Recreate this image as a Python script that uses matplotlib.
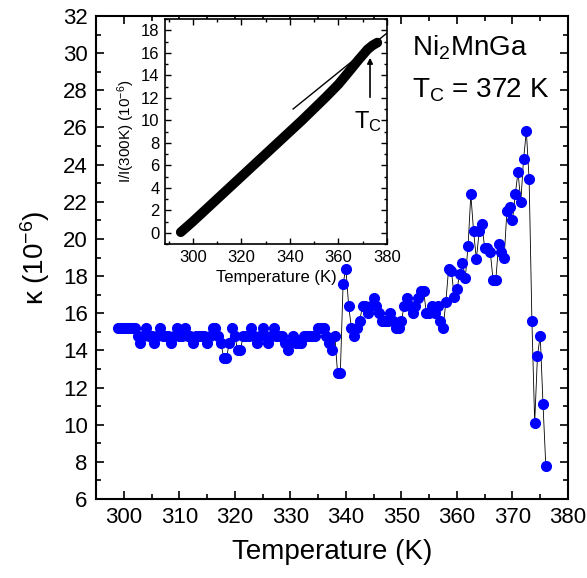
import matplotlib
matplotlib.use("Agg")
import matplotlib.pyplot as plt
from matplotlib.ticker import MultipleLocator

plt.rcParams['font.family'] = ['Liberation Sans', 'DejaVu Sans']
plt.rcParams['mathtext.fontset'] = 'custom'
plt.rcParams['mathtext.rm'] = 'Liberation Sans'
plt.rcParams['mathtext.it'] = 'Liberation Sans:italic'
plt.rcParams['mathtext.default'] = 'regular'

# main panel: susceptibility kappa vs temperature
temp = [299.0, 299.5, 300.0, 300.5, 301.0, 301.5, 302.0, 302.5, 303.0, 303.5,
        304.0, 304.5, 305.0, 305.5, 306.0, 306.5, 307.0, 307.5, 308.0, 308.5,
        309.0, 309.5, 310.0, 310.5, 311.0, 311.5, 312.0, 312.5, 313.0, 313.5,
        314.0, 314.5, 315.0, 315.5, 316.0, 316.5, 317.0, 317.5, 318.0, 318.5,
        319.0, 319.5, 320.0, 320.5, 321.0, 321.5, 322.0, 322.5, 323.0, 323.5,
        324.0, 324.5, 325.0, 325.5, 326.0, 326.5, 327.0, 327.5, 328.0, 328.5,
        329.0, 329.5, 330.0, 330.5, 331.0, 331.5, 332.0, 332.5, 333.0, 333.5,
        334.0, 334.5, 335.0, 335.5, 336.0, 336.5, 337.0, 337.5, 338.0, 338.5,
        339.0, 339.5, 340.0, 340.5, 341.0, 341.5, 342.0, 342.5, 343.0, 343.5,
        344.0, 344.5, 345.0, 345.5, 346.0, 346.5, 347.0, 347.5, 348.0, 348.5,
        349.0, 349.5, 350.0, 350.5, 351.0, 351.5, 352.0, 352.5, 353.0, 353.5,
        354.0, 354.5, 355.0, 355.5, 356.0, 356.5, 357.0, 357.5, 358.0, 358.5,
        359.0, 359.5, 360.0, 360.5, 361.0, 361.5, 362.0, 362.5, 363.0, 363.5,
        364.0, 364.5, 365.0, 365.5, 366.0, 366.5, 367.0, 367.5, 368.0, 368.5,
        369.0, 369.5, 370.0, 370.5, 371.0, 371.5, 372.0, 372.5, 373.0, 373.5,
        374.0, 374.5, 375.0, 375.5, 376.0]
kappa = [15.2, 15.2, 15.2, 15.2, 15.2, 15.2, 15.2, 14.8, 14.4, 14.8,
         15.2, 14.8, 14.8, 14.4, 14.8, 15.2, 14.8, 14.8, 14.8, 14.4,
         14.8, 15.2, 14.8, 14.8, 15.2, 14.8, 14.8, 14.4, 14.8, 14.8,
         14.8, 14.8, 14.4, 14.8, 15.2, 15.2, 14.8, 14.4, 13.6, 13.6,
         14.4, 15.2, 14.8, 14.0, 14.0, 14.8, 14.8, 14.8, 15.2, 14.8,
         14.4, 14.8, 15.2, 14.8, 14.4, 14.8, 15.2, 14.8, 14.8, 14.8,
         14.4, 14.0, 14.4, 14.8, 14.4, 14.4, 14.4, 14.8, 14.8, 14.8,
         14.8, 14.8, 15.2, 15.2, 15.2, 14.8, 14.4, 14.0, 14.8, 12.8,
         12.8, 17.6, 18.4, 16.4, 15.2, 14.8, 15.2, 15.6, 16.4, 16.4,
         16.0, 16.4, 16.8, 16.4, 16.0, 15.6, 15.6, 15.6, 16.0, 15.6,
         15.2, 15.2, 15.6, 16.4, 16.8, 16.4, 16.0, 16.4, 16.8, 17.2,
         17.2, 16.0, 16.0, 16.4, 16.0, 16.4, 15.6, 15.2, 16.6, 18.4,
         18.3, 16.9, 17.3, 18.1, 18.7, 17.9, 19.6, 22.4, 20.4, 18.9,
         20.4, 20.8, 19.5, 19.5, 19.3, 17.8, 17.8, 19.7, 19.3, 19.0,
         21.5, 21.7, 21.0, 22.4, 23.6, 22.0, 24.3, 25.8, 23.2, 15.6,
         10.1, 13.7, 14.8, 11.1, 7.8]

# inset: normalised intensity
temp_in = [295, 300, 305, 310, 315, 320, 325, 330, 335, 340,
           345, 350, 355, 360, 365, 368, 370, 372, 374, 376]
ratio_in = [0.05, 1.0, 2.0, 3.0, 4.0, 5.0, 6.0, 7.0, 8.0, 9.0,
            10.0, 11.05, 12.1, 13.2, 14.5, 15.3, 15.8, 16.3, 16.65, 16.9]
# high-temperature tangent line
tang_t = [341.3, 380.0]
tang_r = [11.0, 17.75]

fig = plt.figure(figsize=(5.87, 5.78), dpi=100)
ax = fig.add_axes([96 / 587, 1 - 499 / 578, (568 - 96) / 587, (499 - 16) / 578])

ax.plot(temp, kappa, '-', color='black', lw=0.6, marker='o', ms=7,
        markerfacecolor='#0000ff', markeredgecolor='#0000ff')

ax.set_xlim(295, 380)
ax.set_ylim(6, 32)
ax.xaxis.set_major_locator(MultipleLocator(10))
ax.xaxis.set_minor_locator(MultipleLocator(5))
ax.yaxis.set_major_locator(MultipleLocator(2))
ax.yaxis.set_minor_locator(MultipleLocator(1))
ax.tick_params(which='both', direction='in', top=True, right=True, width=1.2)
ax.tick_params(which='major', length=6, labelsize=16, pad=6)
ax.tick_params(which='minor', length=3.5)
for s in ax.spines.values():
    s.set_linewidth(1.5)
ax.set_xlabel('Temperature (K)', fontsize=20, labelpad=8)
ax.set_ylabel('κ (10$^{-6}$)', fontsize=20, labelpad=8)

ax.text(0.669, 0.919, 'Ni$_2$MnGa', transform=ax.transAxes, fontsize=20,
        va='baseline', ha='left')
ax.text(0.669, 0.832, 'T$_C$ = 372 K', transform=ax.transAxes, fontsize=20,
        va='baseline', ha='left')

# inset
axi = fig.add_axes([165 / 587, 1 - 244 / 578, (387 - 165) / 587, (244 - 19) / 578])
axi.plot(temp_in, ratio_in, '-', color='black', lw=7, solid_capstyle='round')
axi.plot(tang_t, tang_r, '-', color='black', lw=1.0)
axi.annotate('', xy=(373, 15.8), xytext=(373, 11.8),
             arrowprops=dict(arrowstyle='-|>', color='black', lw=1.2,
                             mutation_scale=8))
axi.text(366.6, 9.3, 'T$_C$', fontsize=17, va='baseline', ha='left')

axi.set_xlim(288.5, 380)
axi.set_ylim(-1, 19)
axi.xaxis.set_major_locator(MultipleLocator(20))
axi.xaxis.set_minor_locator(MultipleLocator(10))
axi.yaxis.set_major_locator(MultipleLocator(2))
axi.yaxis.set_minor_locator(MultipleLocator(1))
axi.tick_params(which='both', direction='in', top=True, right=True, width=1.0)
axi.tick_params(which='major', length=4, labelsize=12, pad=4)
axi.tick_params(which='minor', length=2.5)
for s in axi.spines.values():
    s.set_linewidth(1.2)
axi.set_xlabel('Temperature (K)', fontsize=12, labelpad=4)
axi.set_ylabel('I/I(300K) (10$^{-6}$)', fontsize=11, labelpad=3)

fig.savefig('out.png', dpi=100)
